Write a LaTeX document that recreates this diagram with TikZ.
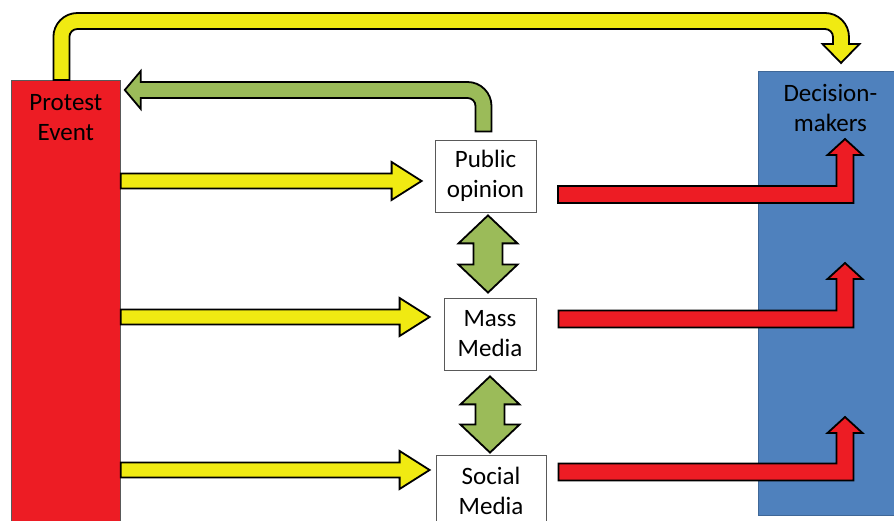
\documentclass[tikz,border=0pt]{standalone}
\usepackage{fontspec}
\setmainfont{Carlito}
\usepackage{tikz}
\usetikzlibrary{calc,positioning}

\definecolor{pyellow}{HTML}{F0EA12}
\definecolor{pred}{HTML}{ED1C24}
\definecolor{pgreen}{HTML}{9BBB59}
\definecolor{pblue}{HTML}{4F81BD}
\definecolor{pgray}{HTML}{595959}

% 水平箭头：#1 起点（箭杆中心），#2 箭尖，#3 颜色
\newcommand{\harrow}[3]{%
  \draw[blockarrow, fill=#3] let \p1=#1, \p2=#2 in
    (\x1,\y1+7.5pt) -- (\x2-30pt,\y1+7.5pt) -- (\x2-30pt,\y1+19pt) -- (\x2,\y1)
    -- (\x2-30pt,\y1-19pt) -- (\x2-30pt,\y1-7.5pt) -- (\x1,\y1-7.5pt) -- cycle;}
% 折线箭头：先向右，再向上
\newcommand{\uarrow}[3]{%
  \draw[blockarrow, fill=#3] let \p1=#1, \p2=#2 in
    (\x1,\y1+8.5pt) -- (\x2-8.5pt,\y1+8.5pt) -- (\x2-8.5pt,\y2-16pt)
    -- (\x2-17.5pt,\y2-16pt) -- (\x2,\y2) -- (\x2+17.5pt,\y2-16pt)
    -- (\x2+8.5pt,\y2-16pt) -- (\x2+8.5pt,\y1-8.5pt) -- (\x1,\y1-8.5pt) -- cycle;}
% 双向箭头：#1 上箭尖，#2 下箭尖
\newcommand{\darrow}[3]{%
  \draw[blockarrow, fill=#3] let \p1=#1, \p2=#2 in
    (\x1,\y1) -- (\x1+29.5pt,\y1-28pt) -- (\x1+14.5pt,\y1-28pt) -- (\x1+14.5pt,\y2+28pt)
    -- (\x1+29.5pt,\y2+28pt) -- (\x1,\y2) -- (\x1-29.5pt,\y2+28pt) -- (\x1-14.5pt,\y2+28pt)
    -- (\x1-14.5pt,\y1-28pt) -- (\x1-29.5pt,\y1-28pt) -- cycle;}

\begin{document}
\begin{tikzpicture}[x=1pt, y=1pt,
    blockarrow/.style={draw=black, line width=1.8pt, line join=miter},
    box/.style={draw=pgray, line width=0.8pt, align=center, inner sep=0pt,
      font=\fontsize{25}{30}\selectfont},
    lbl/.style={align=center, inner sep=0pt, font=\fontsize{25}{30}\selectfont}]
    \useasboundingbox (0,0) rectangle (894,521);

    % 两侧的大方框
    \node[box, fill=pred, minimum width=109, minimum height=470, anchor=north west]
        (protest) at (11,441) {};
    \node[box, draw=pblue!80!black, fill=pblue, minimum width=144, minimum height=444,
        anchor=north west] (decision) at (758,450) {};
    \node[lbl, anchor=north] (protestlbl) at ($(protest.north)+(0,-14)$) {Protest\\Event};
    \node[lbl, anchor=north] (decisionlbl) at ($(decision.north)+(0,-13)$) {Decision-\\makers};

    % 中间三个方框
    \node[box, fill=white, minimum width=101, minimum height=72] (public) at (485.5,345) {Public\\opinion};
    \node[box, fill=white, minimum width=92, minimum height=72] (massmedia) at (490,187) {Mass\\Media};
    \node[box, fill=white, minimum width=110, minimum height=72] (social) at (491,30) {Social\\Media};

    % 黄色箭头
    \coordinate (ya) at (0,340);
    \coordinate (yb) at (0,204);
    \coordinate (yc) at (0,51);
    \harrow{(protest.east |- ya)}{($(public.west |- ya)+(-13,0)$)}{pyellow}
    \harrow{(protest.east |- yb)}{($(massmedia.west |- yb)+(-14,0)$)}{pyellow}
    \harrow{(protest.east |- yc)}{($(social.west |- yc)+(-6,0)$)}{pyellow}

    % 顶部黄色折线箭头
    \coordinate (ytop) at (0,500);
    \coordinate (ttip) at (841,458);
    \draw[blockarrow, fill=pyellow] let \p1=($(protest.north)+(-4.5,0)$), \p2=(ttip), \p3=(ytop) in
        (\x1-8pt,\y1) -- (\x1-8pt,\y3-16pt) arc[start angle=180, end angle=90, radius=24pt]
        -- (\x2-16pt,\y3+8pt) arc[start angle=90, end angle=0, radius=24pt]
        -- (\x2+8pt,\y2+19pt) -- (\x2+18.5pt,\y2+19pt) -- (\x2,\y2) -- (\x2-18.5pt,\y2+19pt)
        -- (\x2-8pt,\y2+19pt) -- (\x2-8pt,\y3-16pt) arc[start angle=0, end angle=90, radius=8pt]
        -- (\x1+16pt,\y3-8pt) arc[start angle=90, end angle=180, radius=8pt]
        -- (\x1+8pt,\y1) -- cycle;

    % 绿色折线箭头（回到抗议事件）
    \coordinate (gtop) at (0,431);
    \draw[blockarrow, fill=pgreen] let \p1=($(public.north)+(-2,8)$), \p2=($(protest.east |- gtop)+(4,0)$) in
        (\x1+8pt,\y1) -- (\x1+8pt,\y2-16pt) arc[start angle=0, end angle=90, radius=24pt]
        -- (\x2+16pt,\y2+8pt) -- (\x2+16pt,\y2+19pt) -- (\x2,\y2) -- (\x2+16pt,\y2-19pt)
        -- (\x2+16pt,\y2-8pt) -- (\x1-16pt,\y2-8pt) arc[start angle=90, end angle=0, radius=8pt]
        -- (\x1-8pt,\y1) -- cycle;

    % 绿色双向箭头
    \darrow{($(public.south)+(2.5,-3)$)}{($(massmedia.north)+(-2,5)$)}{pgreen}
    \darrow{($(massmedia.south)+(0,-6)$)}{($(social.north)+(-1,2)$)}{pgreen}

    % 红色箭头
    \coordinate (ta) at (845,382);
    \coordinate (tb) at (845,258);
    \coordinate (tc) at (845,104);
    \uarrow{($(public.east |- 0,326.5)+(21.5,0)$)}{(ta)}{pred}
    \uarrow{($(massmedia.east |- 0,202)+(22,0)$)}{(tb)}{pred}
    \uarrow{($(social.east |- 0,49)+(12,0)$)}{(tc)}{pred}
\end{tikzpicture}
\end{document}
